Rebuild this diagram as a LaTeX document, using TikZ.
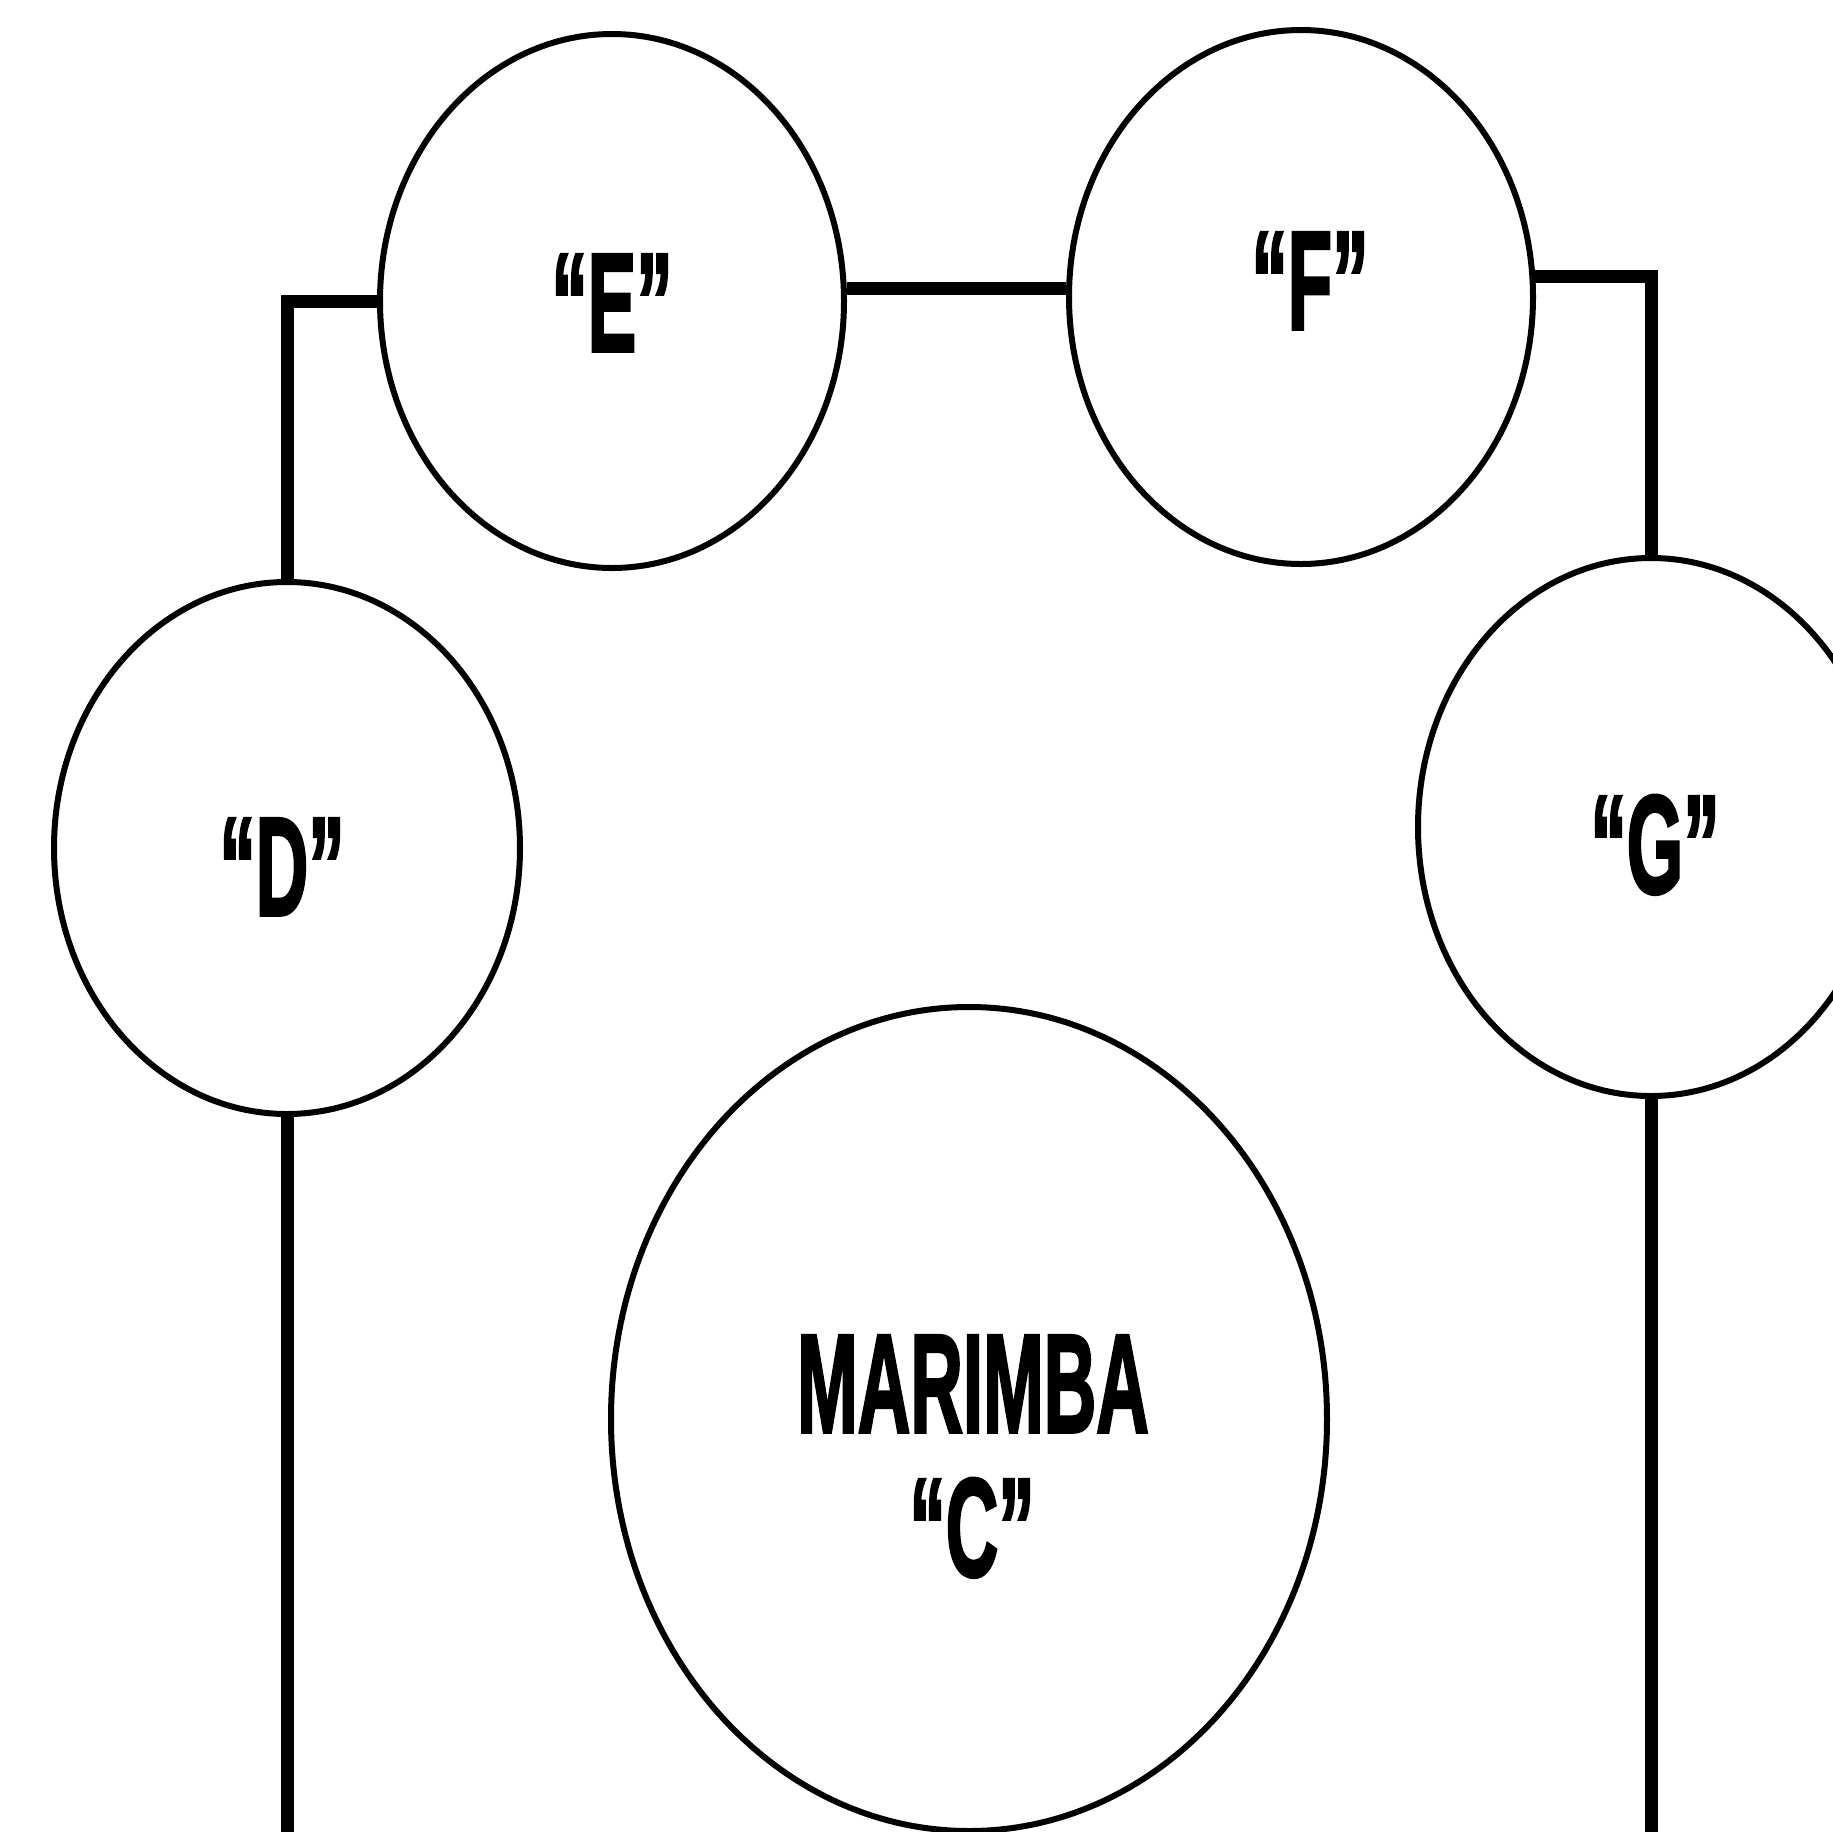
\documentclass[tikz,border=0pt]{standalone}
\usepackage{fontspec}
\usepackage{graphicx}
\setmainfont{Liberation Sans}
\newfontfamily\heavyfont[FakeBold=2.5]{Liberation Sans Bold}
\usetikzlibrary{shapes.geometric}
\tikzset{
  ring/.style={draw, ellipse, line width=3pt, inner sep=0pt},
  wire/.style={line width=6.5pt},
  lab/.style={anchor=base, inner sep=0pt, font=\fontsize{70}{80}\selectfont\heavyfont}
}
\newcommand{\cond}[1]{\scalebox{0.52}[1]{#1}}
\begin{document}
\begin{tikzpicture}[x=0.5pt, y=-0.5pt]
\useasboundingbox (0,0) rectangle (1833,1832);
\coordinate (bot) at (0,1832);
% ellipses
\node[ring, minimum width=232pt, minimum height=267pt] (e) at (612,301) {};
\node[ring, minimum width=232pt, minimum height=267pt] (f) at (1301,297) {};
\node[ring, minimum width=233pt, minimum height=266pt] (d) at (287,848) {};
\node[ring, minimum width=233pt, minimum height=269pt] (g) at (1651,827) {};
\node[ring, minimum width=358pt, minimum height=412pt] (m) at (969,1419) {};
% labels
\node[lab] (le) at (612,351) {\cond{“E”}};
\node[lab] (lf) at (1310,329) {\cond{“F”}};
\node[lab] (ld) at (282,915) {\cond{“D”}};
\node[lab] (lg) at (1655,893) {\cond{“G”}};
\node[lab] (lm) at (973,1432) {\cond{MARIMBA}};
\node[lab] (lc) at (972,1576) {\cond{“C”}};
% connectors
\draw[wire] (e.3) -- (e.3 -| f.west);
\draw[wire] (e.west) -| (d.north);
\draw[wire] (f.5) -| (g.north);
\draw[wire] (d.south) -- (d.south |- bot);
\draw[wire] (g.south) -- (g.south |- bot);
\end{tikzpicture}
\end{document}
